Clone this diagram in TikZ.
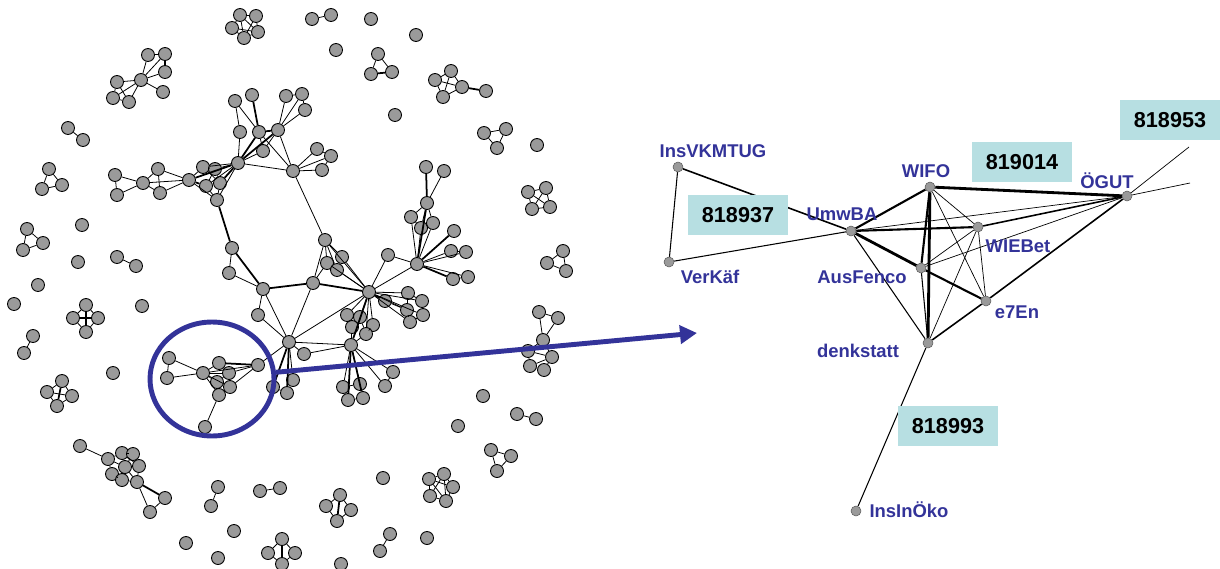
\documentclass[tikz,border=0pt]{standalone}
\usepackage{fontspec}
\setmainfont{Liberation Sans}
\usetikzlibrary{arrows.meta,shapes.geometric}
\definecolor{netBlue}{HTML}{333399}
\definecolor{idTeal}{HTML}{B7DFE2}
\definecolor{dotGray}{HTML}{9A9A9A}

\tikzset{
  dot/.style={circle,draw=black,line width=0.5pt,fill=dotGray,inner sep=0pt,minimum size=0.26cm},
  sdot/.style={circle,draw=black!65,line width=0.3pt,fill=dotGray,inner sep=0pt,minimum size=0.2cm},
  tie/.style={line width=0.45pt},
  tieB/.style={line width=1pt},
  who/.style={text=netBlue,inner sep=0pt,font=\fontsize{10.5}{12}\selectfont\bfseries},
  idbox/.style={fill=idTeal,minimum width=2cm,minimum height=0.8cm,font=\fontsize{12.3}{14}\selectfont\bfseries}
}

\begin{document}
\begin{tikzpicture}[x=0.02cm,y=-0.02cm]
 \useasboundingbox (0,0) rectangle (1220,568);
 % Whole network: small components
 \foreach \n/\x/\y in {
   t1/240/15, t2/256/16, t3/232/28, t4/258/32, t5/244/38,
   p1/312/19, p2/331/15, s1/371/19, s2/336/50, s3/416/35, s4/395/115, s5/537/145,
   u1/378/54, u2/371/74, u3/392/72,
   v1/451/71, v2/435/80, v3/443/97, v4/462/87, v5/486/91,
   k0/141/80, k1/148/55, k2/165/54, k3/165/72, k4/163/92, k5/117/82, k6/113/98, k7/129/102,
   q1/68/128, q2/83/140, w1/49/169, w2/42/189, w3/62/185,
   x1/27/229, x2/43/243, x3/23/250, s6/82/225, s7/78/262, y1/117/257, y2/136/266,
   s8/38/285, s9/14/304, s10/142/306,
   z1/86/305, z2/73/318, z3/98/318, z4/86/332, o1/33/336, o2/24/353, s11/113/373,
   j1/62/381, j2/47/392, j3/72/396, j4/57/406,
   m1/80/446, m2/108/459, m3/122/453, m4/133/454, m5/125/467, m6/139/466,
   m7/112/474, m8/122/480, m9/137/482, m10/165/498, m11/150/512,
   b1/218/487, b2/211/506, b3/260/491, b4/280/488, s12/234/531, s13/186/543, s14/218/558,
   cr1/282/539, cr2/268/553, cr3/295/553, cr4/282/564,
   cs1/340/495, cs2/326/506, cs3/351/510, cs4/337/521,
   b5/390/534, b6/380/551, s15/341/564, s16/427/538, s17/383/478,
   g1/429/479, g2/444/474, g3/453/487, g4/446/501, g5/430/496,
   r1/491/450, r2/511/456, r3/497/471, s18/458/426, b7/517/414, b8/536/419, s19/483/396,
   r4/484/133, r5/506/129, r6/497/148,
   d1/528/192, d2/546/188, d3/532/209, d4/550/207,
   r7/563/251, r8/547/263, r9/566/271,
   f1/539/312, f2/558/318, f3/543/340, f4/528/351, f5/552/357, f6/530/366, f7/544/370}
   \node[dot] (\n) at (\x,\y) {};
 \foreach \a/\b in {t1/t2, t1/t3, t2/t4, t3/t5, t4/t5, t1/t5, t2/t5, t1/t4, t3/t4,
   p1/p2, u1/u2, u1/u3, v1/v2, v1/v4, v2/v3, v3/v4, v2/v4, v1/v3,
   k0/k1, k0/k2, k0/k3, k0/k4, k0/k5, k0/k6, k0/k7, k1/k2, k5/k6, k6/k7, k5/k7,
   q1/q2, w1/w2, w1/w3, w2/w3, x1/x2, x1/x3, x2/x3, y1/y2,
   z1/z2, z1/z3, z2/z4, z3/z4, o1/o2, j1/j2, j1/j3, j2/j4, j3/j4, j2/j3,
   m1/m2, m2/m3, m2/m5, m2/m7, m3/m4, m3/m5, m4/m6, m5/m6, m5/m8, m6/m9,
   m7/m8, m8/m9, m3/m6, m4/m5, m5/m9, m9/m11, m10/m11,
   b1/b2, b3/b4, cr1/cr2, cr1/cr3, cr2/cr4, cr3/cr4, cs1/cs2, cs1/cs3, cs2/cs4, cs3/cs4,
   b5/b6, g1/g2, g1/g3, g2/g3, g2/g5, g3/g4, g4/g5, g1/g5, g1/g4, g2/g4,
   r1/r2, r1/r3, r2/r3, b7/b8, r4/r5, r4/r6, r5/r6,
   d1/d2, d1/d3, d2/d4, d3/d4, d1/d4, d2/d3, r7/r8, r7/r9, r8/r9,
   f1/f2, f1/f3, f2/f3, f3/f4, f3/f5, f4/f5, f4/f6, f5/f7, f6/f7, f5/f6}
   \draw[tie] (\a) -- (\b);
 \foreach \a/\b in {u2/u3, v4/v5, k2/k3, z1/z4, z2/z3, j1/j4, m9/m10, cr1/cr4, cs1/cs4}
   \draw[tieB] (\a) -- (\b);
 % Whole network: main component
 \foreach \n/\x/\y in {
   A1/235/101, A2/252/95, A3/286/96, A4/302/94, A5/305/110,
   A6/240/132, A7/259/132, A8/278/130, A9/263/151, H1/238/163, H2/293/171,
   B1/317/149, B2/331/156, B3/322/170,
   C1/203/167, C2/215/169, C3/206/186, C4/220/183, C5/217/200, C6/189/180,
   D1/115/175, D2/117/195, D3/143/183, D4/158/169, D5/160/193,
   E1/232/248, E2/229/273, E3/263/289, E4/258/315, E5/289/342, E6/304/354,
   F1/325/240, F2/342/257, F3/327/263, F4/337/270, G1/313/283,
   H3/369/292, H4/417/264, H5/351/345, K1/388/255,
   L1/427/203, L2/411/217, L3/421/228, L4/433/223, L5/454/231, L6/451/251,
   L7/466/252, L8/453/279, L9/468/277, L10/426/167, L11/444/171,
   M1/385/301, M2/408/293, M3/422/301, M4/407/310, M5/423/315, M6/410/322,
   N1/347/315, N2/360/317, N3/373/325, N4/352/327, N5/366/334,
   P1/343/387, P2/360/384, P3/348/400, P4/363/398, P5/393/372, P6/385/386,
   Q1/273/387, Q2/287/393, Q3/293/380,
   R1/169/358, R2/167/378, R3/203/373, R4/219/363, R5/229/373, R6/217/382,
   R7/230/387, R8/219/395, R9/205/427, R10/258/365}
   \node[dot] (\n) at (\x,\y) {};
 \foreach \a/\b in {A1/A6, A1/A7, A3/A8, A4/A8, A5/A8, A3/A4, A4/A5, A6/H1, A9/H1,
   A7/A9, A8/A9, A8/H2, A7/H2, H1/H2, H2/B1, H2/B2, H2/B3, B1/B2, B2/B3,
   H1/C1, H1/C2, H1/C3, H1/C5, C1/C2, C1/C6, C2/C4, C3/C4, C3/C5, C4/C5, C6/C5, C1/C4, C2/C3,
   C6/D3, C6/D4, C6/D5, D3/D4, D3/D5, D4/D5, D1/D3, D2/D3, D1/D2,
   E1/E2, E2/E3, E3/E4, E3/E5, E4/E5, G1/F1, G1/F3, G1/E5, H2/F1,
   F1/F2, F1/F3, F1/F4, F2/F4, F3/F4, F1/H3, F2/H3, F3/H3, F4/H3,
   H3/K1, K1/H4, H3/H4, H3/M2, H3/M3, H3/M4, H3/M5, H3/M6, M2/M3, M1/M4, M4/M6,
   M3/M5, M5/M6, M2/M4, H4/L2, H4/L3, H4/L4, H4/L6, H4/L7, H4/L9,
   L1/L2, L1/L4, L2/L3, L3/L4, L1/L3, L1/L11, L6/L7, L8/L9,
   H3/N1, H3/N2, H3/N3, H3/N5, N1/N4, N2/N5, N4/H5, N5/H5, N1/N2, N3/N5,
   E5/H5, E5/E6, E6/H5, E5/Q3, Q1/Q2, E5/H3,
   H5/P1, H5/P2, H5/P5, H5/P6, P1/P3, P2/P4, P1/P2, P3/P4, P5/P6,
   E5/R10, R10/R3, R10/R5, R10/R7, R3/R5, R3/R6, R3/R7, R3/R8, R4/R5, R5/R6,
   R6/R7, R6/R8, R7/R8, R8/R9, R1/R3, R2/R3, R1/R2, R3/R4}
   \draw[tie] (\a) -- (\b);
 \foreach \a/\b in {A2/A7, A7/H1, A8/H1, A7/A8, C6/H1, C6/C3, H1/C4, C5/E1, E1/E3,
   E3/G1, G1/H3, H3/H5, H3/M1, H5/P3, H5/P4, E5/Q1, E5/Q2, H4/L1, H4/L5, H4/L8,
   L1/L10, R10/R4}
   \draw[tieB] (\a) -- (\b);
 % Zoomed part
 \node[draw=netBlue,line width=2.8pt,ellipse,inner sep=0pt,minimum width=2.48cm,minimum height=2.28cm] (lens) at (212,379) {};
 \coordinate (tip) at (697,333);
 \draw[netBlue,line width=2.8pt,-{Triangle[length=0.34cm,width=0.36cm]}] (lens.6) -- (tip);
 % Actors
 \node[sdot] (insv) at (678,167) {};
 \node[sdot] (verk) at (669,262) {};
 \node[sdot] (umw) at (851,231) {};
 \node[sdot] (wifo) at (930,187) {};
 \node[sdot] (ogut) at (1127,196) {};
 \node[sdot] (wieb) at (978,227) {};
 \node[sdot] (ausf) at (921,268) {};
 \node[sdot] (e7en) at (986,301) {};
 \node[sdot] (denk) at (928,343) {};
 \node[sdot] (insi) at (856,511) {};
 \coordinate (outA) at (1189,147);
 \coordinate (outB) at (1190,183);
 % Project links
 \foreach \a/\b in {umw/ogut, wifo/wieb, wifo/e7en, ogut/ausf, wieb/ausf, wieb/e7en,
   wieb/denk, ogut/outA, ogut/outB}
   \draw[line width=0.4pt] (\a) -- (\b);
 \foreach \a/\b in {insv/verk, verk/umw, umw/denk, ausf/denk, denk/insi}
   \draw[line width=0.6pt] (\a) -- (\b);
 \foreach \a/\b in {insv/umw, ogut/wieb, ogut/e7en, e7en/denk}
   \draw[line width=0.9pt] (\a) -- (\b);
 \foreach \a/\b in {umw/wifo, umw/wieb, wifo/ausf, ausf/e7en}
   \draw[line width=1.2pt] (\a) -- (\b);
 \foreach \a/\b in {umw/ausf, wifo/ogut, wifo/denk}
   \draw[line width=1.6pt] (\a) -- (\b);
 % Names
 \node[who] (nInsv) at (713,151) {InsVKMTUG};
 \node[who] (nVerk) at (710,277) {VerKäf};
 \node[who] (nUmw) at (842,214) {UmwBA};
 \node[who] (nWifo) at (926,171) {WIFO};
 \node[who] (nOgut) at (1107,181) {ÖGUT};
 \node[who] (nWieb) at (1018,246) {WIEBet};
 \node[who] (nAusf) at (862,277) {AusFenco};
 \node[who] (nE7en) at (1017,312) {e7En};
 \node[who] (nDenk) at (858,351) {denkstatt};
 \node[who] (nInsi) at (909,510) {InsInÖko};
 % Project numbers
 \node[idbox] (id937) at (738,215) {818937};
 \node[idbox] (id014) at (1022,162) {819014};
 \node[idbox] (id953) at (1170,120) {818953};
 \node[idbox] (id993) at (948,426) {818993};
\end{tikzpicture}
\end{document}
